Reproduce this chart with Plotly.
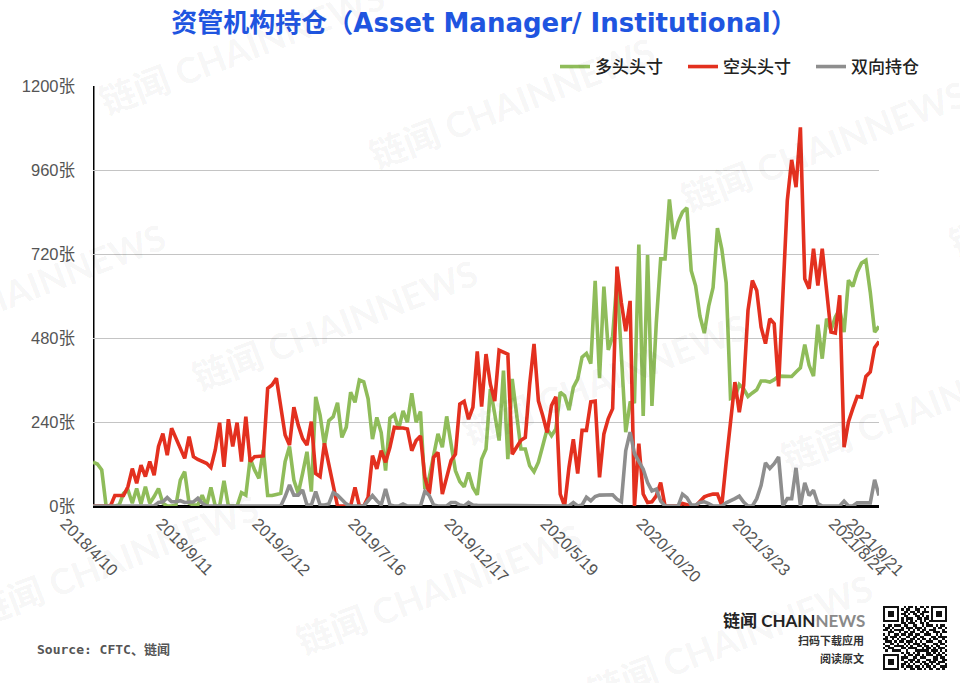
import pandas as pd
import plotly.graph_objects as go

start_date = "2018-04-10"
long_pos = [125,120,103,0,0,0,3,36,46,8,50,6,55,8,27,50,8,0,0,3,74,98,8,3,3,31,0,53,0,0,72,0,0,0,38,31,136,103,79,160,
30,30,33,36,127,170,74,36,93,155,41,312,260,174,244,255,295,196,225,325,296,360,355,306,191,253,210,101,251,261,
220,272,239,322,239,270,49,82,144,206,168,256,177,101,70,55,96,53,32,134,163,334,263,187,387,134,363,253,163,163,
115,98,125,172,220,201,220,325,315,274,339,363,425,436,407,643,365,627,446,485,648,430,211,295,298,747,257,717,286,523,
706,706,876,763,811,840,852,672,629,542,494,571,624,794,734,638,307,311,347,335,313,323,332,357,357,354,361,371,370,370,
370,383,395,461,402,371,518,421,535,502,540,562,497,645,627,668,694,702,611,497,513]
short_pos = [0,0,0,0,0,30,30,30,55,107,65,117,84,127,88,170,207,145,222,193,170,136,198,141,133,127,122,110,160,238,
112,248,170,238,127,255,127,141,141,143,336,346,365,284,203,174,282,231,193,174,241,93,84,179,122,65,0,0,0,0,
53,0,0,25,144,106,158,125,168,225,223,223,220,158,187,200,82,34,139,153,34,82,130,148,291,299,248,282,442,284,
434,348,300,445,439,434,148,168,188,196,348,463,300,258,210,287,312,34,0,110,191,93,216,216,298,300,82,206,250,278,
684,581,499,586,0,178,34,10,12,29,67,0,0,0,0,7,3,0,0,14,26,31,34,34,2,125,235,354,268,345,
559,644,616,511,464,535,521,342,606,873,989,911,1082,649,621,735,630,735,616,497,494,602,168,240,278,313,311,370,383,452,470]
spread_pos = [0,0,0,0,0,0,0,0,0,0,0,0,0,0,0,10,12,24,12,12,15,10,10,12,22,8,0,0,0,0,0,0,0,0,0,0,0,0,0,0,
0,0,0,0,27,60,31,31,46,3,3,41,3,3,6,38,31,17,6,0,0,0,0,15,30,15,3,49,3,0,0,6,0,0,0,0,42,30,3,0,
0,0,10,10,3,0,10,3,2,2,0,0,0,0,0,0,0,0,0,0,0,0,0,0,0,0,0,0,0,0,10,0,3,25,15,27,31,32,32,32,
19,12,158,211,150,125,105,67,43,48,14,0,0,0,0,34,24,3,3,10,12,7,0,0,0,9,14,21,28,11,0,0,21,59,123,107,121,140,0,21,
21,109,0,66,30,45,7,0,0,0,0,0,14,0,0,9,9,9,9,75,30]
tick_dates = ["2018-04-10","2018-09-11","2019-02-12","2019-07-16","2019-12-17","2020-05-19","2020-10-20","2021-03-23","2021-08-24","2021-09-21"]
tick_labels = ["2018/4/10","2018/9/11","2019/2/12","2019/7/16","2019/12/17","2020/5/19","2020/10/20","2021/3/23","2021/8/24","2021/9/21"]
y_tick_step = 240
series_names = ["多头头寸","空头头寸","双向持仓"]
title_text = "资管机构持仓（Asset Manager/ Institutional）"

qr_rows = [
"1111111001011010110101111111",
"1000001010110011001001000001",
"1011101001101101011101011101",
"1011101011010110110001011101",
"1011101001100011010101011101",
"1000001010111001101101000001",
"1111111010101010101011111111",
"0000000011011100110100000000",
"1011011101100110010111010110",
"0110100010111011101000101101",
"1101011110010101011011100010",
"0011100101101100110100111011",
"1010011011011011001110010100",
"0101110100110110110001101111",
"1100101011001101011010110010",
"0111010110111010100111001101",
"1001101001010111011000110110",
"0110011110101001101101011001",
"1011100011011110010110101110",
"0100111100100011111101110101",
"0000000010110101000110101010",
"1111111001011011010111011101",
"1000001011100110111000110110",
"1011101010011101000110110011",
"1011101001101011011011101110",
"1011101011010100101101011001",
"1000001010111011010110100111",
"1111111001001101101011011010",
]

dates = pd.date_range(start_date, periods=len(long_pos), freq="7D")

fig = go.Figure()
colors = ["#8fbc5a", "#e3301f", "#8e8e8e"]
for name, vals, c in zip(series_names, [long_pos, short_pos, spread_pos], colors):
    fig.add_trace(go.Scatter(x=dates, y=vals, mode="lines", name=name,
                             line=dict(color=c, width=3.6, shape="linear")))

fig.add_trace(go.Heatmap(z=[[int(ch) for ch in r] for r in qr_rows[::-1]], xaxis="x2", yaxis="y2",
                         colorscale=[[0,"#ffffff"],[1,"#111111"]], showscale=False, hoverinfo="skip", xgap=0, ygap=0))

W, H = 960, 683
L, R, T, B = 93, 879, 86, 506
def px(x): return x / W
def py(y): return 1 - y / H

anns = []
marks = [(241,49),(511,103),(823,146),(22,289),(334,325),(604,379),(923,406),(115,560),(438,589),(729,640),(1091,191)]
for x, y in marks:
    anns.append(dict(text="链闻 CHAINNEWS", x=px(x), y=py(y), xref="paper", yref="paper", showarrow=False,
                     xanchor="center", yanchor="middle",
                     textangle=-21, font=dict(family="Lato, Noto Sans CJK SC", size=36, color="rgba(0,0,0,0.05)", weight=700)))
anns.append(dict(text="Source: CFTC、链闻", x=px(35), y=py(649), xref="paper", yref="paper", showarrow=False, xanchor="left", yanchor="middle",
                 font=dict(family="DejaVu Sans Mono, Noto Sans CJK SC", size=13, color="#555555", weight=700)))
anns.append(dict(text="<b>链闻 CHAIN</b><span style='color:#8a8a8a'><b>NEWS</b></span>", x=px(865), y=py(620), xref="paper", yref="paper", xshift=2,
                 showarrow=False, xanchor="right", yanchor="middle", font=dict(family="Lato, Noto Sans CJK SC", size=17, color="#222222")))
anns.append(dict(text="<b>扫码下载应用</b>", x=px(864), y=py(640), xref="paper", yref="paper", showarrow=False, xanchor="right", yanchor="middle", xshift=2,
                 font=dict(family="Noto Sans CJK SC", size=11, color="#333333")))
anns.append(dict(text="<b>阅读原文</b>", x=px(864), y=py(658), xref="paper", yref="paper", showarrow=False, xanchor="right", yanchor="middle", xshift=2,
                 font=dict(family="Noto Sans CJK SC", size=11, color="#333333")))

fig.update_layout(
    width=W, height=H, autosize=False,
    margin=dict(l=0, r=0, t=0, b=0, pad=0, autoexpand=False),
    paper_bgcolor="white", plot_bgcolor="white",
    title=dict(text=title_text, x=484/W, y=1-23/H, xanchor="center", yanchor="middle",
               font=dict(family="DejaVu Sans, Noto Sans CJK SC", size=26, color="#1f55e0", weight=700)),
    legend=dict(orientation="h", x=px(555), y=py(67), xanchor="left", yanchor="middle", bgcolor="rgba(0,0,0,0)",
                font=dict(family="Noto Sans CJK SC", size=17, color="#222222", weight=500),
                itemwidth=30, entrywidth=83, entrywidthmode="pixels", traceorder="normal"),
    xaxis=dict(type="date", domain=[px(L), px(R)], range=[dates[0], dates[-1]], tickmode="array", tickvals=tick_dates, ticktext=tick_labels,
               tickangle=45, ticks="", showgrid=False, zeroline=False, showline=False,
               ticklabelshift=-28, ticklabelstandoff=4,
               tickfont=dict(family="Liberation Sans", size=16.5, color="#555555")),
    yaxis=dict(domain=[py(B), py(T)], range=[0,1200], tickmode="linear", tick0=0, dtick=y_tick_step, ticksuffix="张", ticks="", showgrid=True,
               gridcolor="#c4c4c4", gridwidth=1.2, zeroline=True, zerolinecolor="#000000", zerolinewidth=2.5,
               showline=False, ticklabelstandoff=17,
               tickfont=dict(family="Liberation Sans, Noto Sans CJK SC", size=16.5, color="#555555")),
    xaxis2=dict(domain=[px(883), px(947)], anchor="y2", visible=False, fixedrange=True),
    yaxis2=dict(domain=[py(670), py(606)], anchor="x2", visible=False, fixedrange=True),
    shapes=[dict(type="line", xref="x", yref="paper", x0=dates[0], x1=dates[0], y0=py(B), y1=py(T), layer="below",
                 line=dict(color="#000000", width=3))],
    annotations=anns, showlegend=True, hovermode=False,
)
fig.write_html("out.html", config={"displayModeBar": False}, post_script="document.body.style.margin='0';")
